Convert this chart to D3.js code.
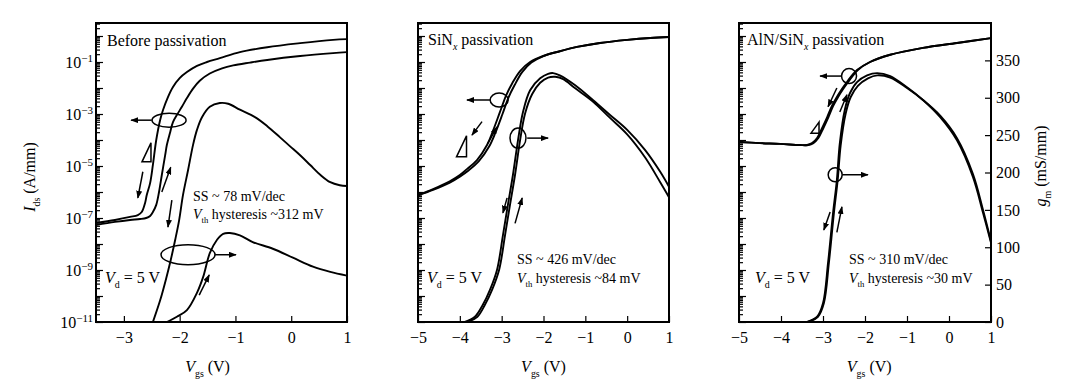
<!DOCTYPE html>
<html>
<head>
<meta charset="utf-8">
<script src="https://cdn.jsdelivr.net/npm/d3@7"></script>
<style>
  body { margin: 0; background: #fff; }
  svg { font-family: "Liberation Serif", "Times New Roman", serif; }
  .curve { fill: none; stroke: #000; stroke-width: 1.9; stroke-linejoin: round; }
  .note { fill: none; stroke: #000; stroke-width: 1.5; }
</style>
</head>
<body>
<svg id="chart" width="1074" height="381"></svg>
<script>
// ---- data: [Vgs (V), Ids (A/mm)] and [Vgs (V), gm (mS/mm)] ----
const p1IdsFwd = [[-3.5,6.4e-8],[-3.16,8.4e-8],[-2.89,1.1e-7],[-2.75,1.3e-7],[-2.68,1.7e-7],[-2.62,3.8e-7],[-2.59,7.6e-7],[-2.53,2.2e-6],[-2.48,1.1e-5],[-2.42,1.0e-4],[-2.35,5.9e-4],[-2.30,1.4e-3],[-2.21,4.5e-3],[-2.12,1.1e-2],[-2.0,2.4e-2],[-1.87,4.1e-2],[-1.69,7.1e-2],[-1.51,0.10],[-1.28,0.14],[-0.92,0.24],[-0.43,0.37],[0.16,0.53],[0.75,0.71],[1.0,0.76]];
const p1IdsRev = [[-3.5,5.4e-8],[-3.16,7.1e-8],[-2.89,8.4e-8],[-2.71,9.1e-8],[-2.60,1.0e-7],[-2.53,1.2e-7],[-2.48,1.7e-7],[-2.42,3.2e-7],[-2.37,1.0e-6],[-2.32,4.5e-6],[-2.26,2.6e-5],[-2.23,6.4e-5],[-2.17,2.0e-4],[-2.12,4.9e-4],[-2.05,9.1e-4],[-1.96,1.9e-3],[-1.87,4.1e-3],[-1.76,9.5e-3],[-1.64,1.9e-2],[-1.46,3.6e-2],[-1.24,5.7e-2],[-1.04,7.4e-2],[-0.74,0.095],[-0.43,0.12],[0.16,0.17],[0.75,0.22],[1.0,0.24]];
const p1GmHigh = [[-2.48,0],[-2.35,29],[-2.25,56],[-2.16,83],[-2.08,110],[-2.01,136],[-1.94,170],[-1.85,203],[-1.76,237],[-1.69,257],[-1.60,274],[-1.46,288],[-1.28,293],[-1.13,292],[-0.92,284],[-0.65,274],[-0.43,262],[-0.20,247],[-0.02,235],[0.16,223],[0.34,210],[0.52,197],[0.70,187],[0.87,183],[1.0,182]];
const p1GmLow = [[-2.23,0],[-2.05,7],[-1.87,16],[-1.69,39],[-1.58,60],[-1.46,92],[-1.33,110],[-1.22,118],[-1.10,119],[-0.92,116],[-0.69,107],[-0.33,98],[0.03,86],[0.39,74],[0.70,67],[1.0,62]];

const p2IdsFwd = [[-5.0,7.6e-7],[-4.64,1.3e-6],[-4.24,2.6e-6],[-4.0,4.5e-6],[-3.83,7.6e-6],[-3.59,1.7e-5],[-3.35,6.4e-5],[-3.21,2.2e-4],[-3.04,1.2e-3],[-2.90,4.9e-3],[-2.75,1.5e-2],[-2.56,4.5e-2],[-2.32,0.10],[-2.01,0.17],[-1.61,0.26],[-1.20,0.38],[-0.65,0.54],[0.0,0.71],[0.55,0.84],[1.0,0.91]];
const p2IdsRev = [[-5.0,7.4e-7],[-4.64,1.2e-6],[-4.24,2.3e-6],[-4.0,3.9e-6],[-3.80,6.6e-6],[-3.55,1.5e-5],[-3.30,5.6e-5],[-3.15,1.9e-4],[-2.98,1.0e-3],[-2.84,4.2e-3],[-2.69,1.3e-2],[-2.51,4.1e-2],[-2.29,9.6e-2],[-2.0,0.17],[-1.61,0.26],[-1.20,0.38],[-0.65,0.54],[0.0,0.71],[0.55,0.84],[1.0,0.91]];
const p2GmFwd = [[-3.88,0],[-3.64,7],[-3.45,23],[-3.28,43],[-3.11,70],[-2.97,116],[-2.85,157],[-2.73,197],[-2.61,243],[-2.49,281],[-2.32,310],[-2.08,326],[-1.89,332],[-1.77,333],[-1.61,330],[-1.25,317],[-0.82,297],[-0.41,277],[0.0,257],[0.43,230],[0.79,201],[1.0,181]];
const p2GmRev = [[-3.82,0],[-3.58,7],[-3.40,23],[-3.23,43],[-3.06,70],[-2.92,116],[-2.80,157],[-2.68,197],[-2.56,243],[-2.44,279],[-2.27,305],[-2.08,320],[-1.89,327],[-1.72,328],[-1.53,325],[-1.25,313],[-0.82,295],[-0.41,273],[0.0,251],[0.43,220],[0.79,187],[1.0,167]];

const p3IdsFwd = [[-5.0,8.4e-5],[-4.5,7.6e-5],[-4.02,7.1e-5],[-3.55,6.4e-5],[-3.38,6.4e-5],[-3.26,7.6e-5],[-3.14,1.2e-4],[-3.02,2.9e-4],[-2.90,7.6e-4],[-2.79,2.0e-3],[-2.67,4.5e-3],[-2.55,9.1e-3],[-2.43,1.7e-2],[-2.19,4.9e-2],[-1.88,0.10],[-1.40,0.19],[-0.62,0.35],[0.19,0.54],[1.0,0.83]];
const p3IdsRev = [[-5.0,8.4e-5],[-4.5,7.6e-5],[-4.02,7.1e-5],[-3.55,6.4e-5],[-3.35,6.4e-5],[-3.23,7.6e-5],[-3.11,1.2e-4],[-2.99,2.9e-4],[-2.87,7.6e-4],[-2.76,2.0e-3],[-2.64,4.5e-3],[-2.52,9.1e-3],[-2.40,1.7e-2],[-2.17,4.9e-2],[-1.88,0.10],[-1.40,0.19],[-0.62,0.35],[0.19,0.54],[1.0,0.83]];
const p3GmFwd = [[-3.38,0],[-3.14,7],[-3.0,25],[-2.88,79],[-2.76,146],[-2.67,190],[-2.60,239],[-2.48,284],[-2.36,306],[-2.19,321],[-1.95,330],[-1.71,333],[-1.40,329],[-1.0,314],[-0.62,297],[-0.21,274],[0.19,243],[0.57,194],[0.81,146],[1.0,106]];
const p3GmRev = [[-3.36,0],[-3.12,7],[-2.98,25],[-2.86,79],[-2.74,146],[-2.65,190],[-2.58,236],[-2.46,279],[-2.34,301],[-2.17,316],[-1.93,326],[-1.71,330],[-1.40,327],[-1.0,313],[-0.62,297],[-0.21,276],[0.19,246],[0.57,198],[0.81,150],[1.0,108]];

// annotations in data units [Vgs, gm]
const p1Rings = [[-2.19,270],[-1.85,90]];
const p1Arrows = [[-2.50,270,-2.87,270],[-2.66,201,-2.75,166],[-2.32,174,-2.16,207],[-2.14,163,-2.21,127],[-1.37,90,-0.99,90],[-1.65,36,-1.47,63]];
const p1Delta = [-2.595,227];
const p2Rings = [[-3.06,297],[-2.61,246]];
const p2Arrows = [[-3.28,297,-3.83,297],[-2.39,246,-1.89,246],[-3.47,268,-3.71,250],[-3.33,239,-3.11,261],[-2.87,166,-2.97,146],[-2.68,132,-2.51,166]];
const p2Delta = [-3.96,235];
const p3Rings = [[-2.38,329],[-2.71,197]];
const p3Arrows = [[-2.56,329,-3.07,329],[-2.54,197,-1.93,197],[-2.67,313,-2.88,288],[-2.60,281,-2.43,304],[-2.83,147,-2.98,123],[-2.67,120,-2.55,154]];
const p3Delta = [-3.19,260];

// text
const titles = [[["Before passivation", ""]], [["SiN", ""], ["x", "sub"], [" passivation", "back"]], [["AlN/SiN", ""], ["x", "sub"], [" passivation", "back"]]];
const ssLabels = ["SS ~ 78 mV/dec", "SS ~ 426 mV/dec", "SS ~ 310 mV/dec"];
const hystLabels = [" hysteresis ~312 mV", " hysteresis ~84 mV", " hysteresis ~30 mV"];
const idsTickExps = [-11, -9, -7, -5, -3, -1];
const gmTicks = [0, 50, 100, 150, 200, 250, 300, 350];

// ---- layout ----
const yTop = 23, yBot = 322;
const panels = [
  {x0: 96,  x1: 347, vmin: -3.5, ids: [p1IdsFwd, p1IdsRev], gm: [p1GmHigh, p1GmLow], rings: p1Rings, ringSize: [[17,7],[27,10]], arrows: p1Arrows, delta: p1Delta, dSize: [9,19],
   titleX: 107, titleY: 46, ssX: 193, ssY: 201, hyY: 219, vdX: 105, vdY: 283, vlabel: -1.5, leftLabels: true, rightAxis: false},
  {x0: 418, x1: 669, vmin: -5, ids: [p2IdsFwd, p2IdsRev], gm: [p2GmFwd, p2GmRev], rings: p2Rings, ringSize: [[9,7],[8,10]], arrows: p2Arrows, delta: p2Delta, dSize: [10,21],
   titleX: 428, titleY: 45, ssX: 517, ssY: 264, hyY: 283, vdX: 427, vdY: 283, vlabel: -2.0, leftLabels: false, rightAxis: false},
  {x0: 739, x1: 991, vmin: -5, ids: [p3IdsFwd, p3IdsRev], gm: [p3GmFwd, p3GmRev], rings: p3Rings, ringSize: [[7.5,7.5],[7,7]], arrows: p3Arrows, delta: p3Delta, dSize: [8,11],
   titleX: 747, titleY: 45, ssX: 849, ssY: 264, hyY: 283, vdX: 755, vdY: 283, vlabel: -1.9, leftLabels: false, rightAxis: true}
];

const svg = d3.select("#chart");
const defs = svg.append("defs");
defs.append("marker")
    .attr("id", "head")
    .attr("viewBox", "0 0 10 10")
    .attr("refX", 9).attr("refY", 5)
    .attr("markerUnits", "userSpaceOnUse")
    .attr("markerWidth", 8).attr("markerHeight", 6)
    .attr("preserveAspectRatio", "none")
    .attr("orient", "auto")
  .append("path")
    .attr("d", "M0,0L10,5L0,10z")
    .attr("fill", "#000");

// text with italic / subscript pieces
function richText(sel, parts, size) {
  parts.forEach(([s, kind]) => {
    const t = sel.append("tspan").text(s);
    if (kind === "it") t.style("font-style", "italic");
    if (kind === "sub") t.attr("font-size", size * 0.62).attr("dy", size * 0.3).style("font-style", s === "x" ? "italic" : null);
    if (kind === "back") t.attr("dy", -size * 0.3);
  });
}

const yI = d3.scaleLog().domain([1e-11, Math.pow(10, 0.5)]).range([yBot, yTop]);
const yG = d3.scaleLinear().domain([0, 400]).range([yBot, yTop]);

panels.forEach((p, i) => {
  const x = d3.scaleLinear().domain([p.vmin, 1]).range([p.x0, p.x1]);
  const pg = svg.append("g");

  defs.append("clipPath").attr("id", "clip" + i)
    .append("rect").attr("x", p.x0).attr("y", yTop).attr("width", p.x1 - p.x0).attr("height", yBot - yTop);

  const lineI = d3.line().x(d => x(d[0])).y(d => yI(d[1])).curve(d3.curveCatmullRom.alpha(0.5));
  const lineG = d3.line().x(d => x(d[0])).y(d => yG(d[1])).curve(d3.curveCatmullRom.alpha(0.5));

  const plot = pg.append("g").attr("clip-path", "url(#clip" + i + ")");
  plot.selectAll(".ids").data(p.ids).enter().append("path")
      .attr("class", "curve").attr("d", lineI);
  plot.selectAll(".gm").data(p.gm).enter().append("path")
      .attr("class", "curve").attr("d", lineG);

  // left axis ticks (inside)
  const majors = d3.range(-11, 1).map(e => Math.pow(10, e));
  const minors = [];
  d3.range(-11, 1).forEach(e => { for (let k = 2; k <= 9; k++) { const v = k * Math.pow(10, e); if (v < Math.pow(10, 0.5)) minors.push(v); } });
  pg.append("g").attr("transform", "translate(" + p.x0 + ",0)")
      .call(d3.axisLeft(yI).tickValues(minors).tickSize(-4).tickFormat(""))
      .call(g => g.select(".domain").remove());
  pg.append("g").attr("transform", "translate(" + p.x0 + ",0)")
      .call(d3.axisLeft(yI).tickValues(majors).tickSize(-7).tickFormat(""))
      .call(g => g.select(".domain").remove());

  if (p.leftLabels) {
    idsTickExps.forEach(e => {
      const t = pg.append("text").attr("x", p.x0 - 3).attr("y", yI(Math.pow(10, e)) + 5.5)
          .attr("text-anchor", "end").attr("font-size", 16);
      t.append("tspan").text("10");
      t.append("tspan").text("\u2212" + (-e)).attr("font-size", 11).attr("dy", -6);
    });
  }

  // x axis
  const xticks = d3.range(Math.ceil(p.vmin), 2);
  pg.append("g").attr("transform", "translate(0," + yBot + ")")
      .call(d3.axisBottom(x).tickValues(xticks).tickSize(-6).tickPadding(10).tickFormat(d3.format("d")))
      .call(g => g.select(".domain").remove())
      .call(g => g.selectAll("text").attr("font-size", 16).attr("font-family", "Liberation Serif"));

  if (p.rightAxis) {
    pg.append("g").attr("transform", "translate(" + p.x1 + ",0)")
        .call(d3.axisRight(yG).tickValues(gmTicks).tickSize(-6).tickPadding(5))
        .call(g => g.select(".domain").remove())
        .call(g => g.selectAll("text").attr("font-size", 16).attr("font-family", "Liberation Serif"));
  }

  pg.selectAll(".tick line").attr("stroke", "#000").attr("stroke-width", 1.2);

  // frame
  pg.append("rect").attr("x", p.x0).attr("y", yTop).attr("width", p.x1 - p.x0).attr("height", yBot - yTop)
      .attr("fill", "none").attr("stroke", "#000").attr("stroke-width", 2);

  // annotations
  pg.selectAll(".ring").data(p.rings).enter().append("ellipse")
      .attr("class", "note")
      .attr("cx", d => x(d[0])).attr("cy", d => yG(d[1]))
      .attr("rx", (d, j) => p.ringSize[j][0]).attr("ry", (d, j) => p.ringSize[j][1]);
  pg.selectAll(".arrow").data(p.arrows).enter().append("line")
      .attr("class", "note")
      .attr("x1", d => x(d[0])).attr("y1", d => yG(d[1]))
      .attr("x2", d => x(d[2])).attr("y2", d => yG(d[3]))
      .attr("marker-end", "url(#head)");
  const dx = x(p.delta[0]), dy = yG(p.delta[1]), w = p.dSize[0] / 2, h = p.dSize[1] / 2;
  pg.append("path").attr("class", "note").attr("stroke-width", 1.3)
      .attr("d", `M${dx + w},${dy - h}L${dx - w},${dy + h}L${dx + w},${dy + h}Z`);

  // texts
  const tt = pg.append("text").attr("x", p.titleX).attr("y", p.titleY).attr("font-size", 16);
  richText(tt, titles[i], 16);

  pg.append("text").attr("x", p.ssX).attr("y", p.ssY).attr("font-size", 14).text(ssLabels[i]);
  const hy = pg.append("text").attr("x", p.ssX).attr("y", p.hyY).attr("font-size", 14);
  richText(hy, [["V", "it"], ["th", "sub"], [hystLabels[i], "back"]], 14);

  const vd = pg.append("text").attr("x", p.vdX).attr("y", p.vdY).attr("font-size", 16);
  richText(vd, [["V", "it"], ["d", "sub"], [" = 5 V", "back"]], 16);

  const xl = pg.append("text").attr("x", x(p.vlabel)).attr("y", 372).attr("font-size", 16).attr("text-anchor", "middle");
  richText(xl, [["V", "it"], ["gs", "sub"], [" (V)", "back"]], 16);
});

// y titles
const yl = svg.append("text").attr("transform", "translate(35,177) rotate(-90)").attr("font-size", 16).attr("text-anchor", "middle");
richText(yl, [["I", "it"], ["ds", "sub"], [" (A/mm)", "back"]], 16);
const gl = svg.append("text").attr("transform", "translate(1046,166) rotate(-90)").attr("font-size", 16).attr("text-anchor", "middle");
richText(gl, [["g", "it"], ["m", "sub"], [" (mS/mm)", "back"]], 16);
</script>
</body>
</html>
